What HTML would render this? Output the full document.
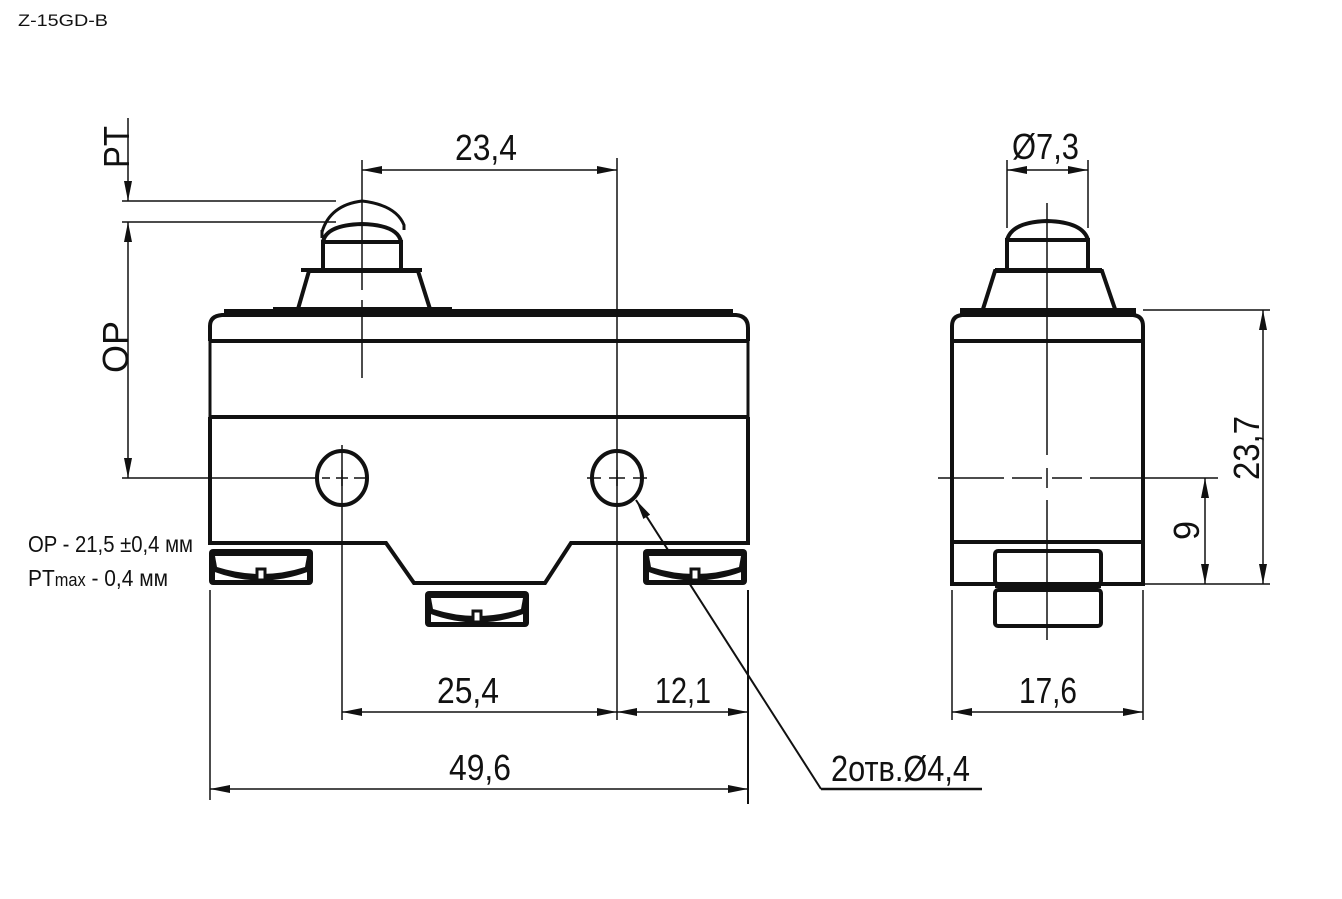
<!DOCTYPE html>
<html><head><meta charset="utf-8"><style>
html,body{margin:0;padding:0;background:#fff;}
svg{display:block;}
text{font-family:"Liberation Sans",sans-serif;fill:#111;}
</style></head><body>
<svg width="1342" height="899" viewBox="0 0 1342 899" xmlns="http://www.w3.org/2000/svg">
<defs>
<marker id="a" viewBox="0 0 20 8" refX="20" refY="4" markerWidth="20" markerHeight="8" markerUnits="userSpaceOnUse" orient="auto-start-reverse">
<path d="M0,0 L20,4 L0,8 z" fill="#111"/></marker>
<g id="term">
<rect x="2" y="2" width="104" height="36" rx="4" fill="#111"/>
<path d="M8,9 L100,9 L98,20 Q54,34 10,20 Z" fill="#fff"/>
<path d="M8,23 Q30,32 50,33 L50,33 L8,33 Z M100,23 Q78,32 58,33 L100,33 Z" fill="#fff"/>
<path d="M8,23 Q54,40 100,23" fill="none" stroke="#111" stroke-width="4"/>
<rect x="50" y="22" width="8" height="11" fill="#fff" stroke="#111" stroke-width="3"/>
</g>
</defs>
<text x="18" y="26" font-size="17" textLength="90" lengthAdjust="spacingAndGlyphs">Z-15GD-B</text>

<g fill="none" stroke="#111">
<path d="M210,341 L210,326 Q210,316 222,315 L736,315 Q748,316 748,328 L748,341" stroke-width="4"/>
<path d="M224,312 L276,312 L276,310 L449,310 L449,312 L733,312" stroke-width="6"/>
<line x1="210" y1="341" x2="748" y2="341" stroke-width="4"/>
<line x1="210" y1="341" x2="210" y2="418" stroke-width="3"/>
<line x1="748" y1="341" x2="748" y2="418" stroke-width="3"/>
<line x1="210" y1="417" x2="748" y2="417" stroke-width="4"/>
<path d="M210,417 L210,543 L386,543 L414,583 L545,583 L571,543 L748,543 L748,417" stroke-width="4"/>
<path d="M298,309 L309,271 L418,271 L430,309" stroke-width="4"/>
<line x1="301" y1="270" x2="422" y2="270" stroke-width="4"/>
<path d="M323,270 L323,242 L401,242 L401,270" stroke-width="4"/>
<path d="M323,242 Q326,225 362,224 Q398,225 401,242" stroke-width="4"/>
<path d="M322,232 Q330,205 362,201 Q396,205 404,225 L404,230" stroke-width="3"/>
<line x1="322" y1="230" x2="322" y2="238" stroke-width="3"/>
<line x1="362" y1="160" x2="362" y2="290" stroke-width="1.5"/>
<line x1="362" y1="300" x2="362" y2="308" stroke-width="1.5"/>
<line x1="362" y1="312" x2="362" y2="378" stroke-width="1.5"/>
<line x1="617" y1="158" x2="617" y2="720" stroke-width="1.5"/>
<line x1="342" y1="445" x2="342" y2="720" stroke-width="1.5"/>
<ellipse cx="342" cy="478" rx="25" ry="27" stroke-width="4"/>
<ellipse cx="617" cy="478" rx="25" ry="27" stroke-width="4"/>
<line x1="122" y1="478" x2="317" y2="478" stroke-width="1.5"/>
<path d="M322,478 h8 M336,478 h12 M354,478 h14 M342,470 v16" stroke-width="1.5"/>
<path d="M587,478 h14 M609,478 h16 M633,478 h14 M617,470 v16" stroke-width="1.5"/>
<line x1="128" y1="118" x2="128" y2="201" stroke-width="1.5" marker-end="url(#a)"/>
<line x1="122" y1="201" x2="336" y2="201" stroke-width="1.5"/>
<line x1="122" y1="222" x2="336" y2="222" stroke-width="1.5"/>
<line x1="128" y1="222" x2="128" y2="478" stroke-width="1.5" marker-start="url(#a)" marker-end="url(#a)"/>
<line x1="362" y1="170" x2="617" y2="170" stroke-width="1.5" marker-start="url(#a)" marker-end="url(#a)"/>
<line x1="210" y1="590" x2="210" y2="800" stroke-width="1.5"/>
<line x1="748" y1="590" x2="748" y2="804" stroke-width="2"/>
<line x1="342" y1="712" x2="617" y2="712" stroke-width="1.5" marker-start="url(#a)" marker-end="url(#a)"/>
<line x1="617" y1="712" x2="748" y2="712" stroke-width="1.5" marker-start="url(#a)" marker-end="url(#a)"/>
<line x1="210" y1="789" x2="748" y2="789" stroke-width="1.5" marker-start="url(#a)" marker-end="url(#a)"/>
<path d="M821,789 L982,789" stroke-width="2.5"/>
<line x1="821" y1="789" x2="636" y2="500" stroke-width="2" marker-end="url(#a)"/>

<path d="M952,341 L952,326 Q952,316 962,315 L1133,315 Q1143,316 1143,326 L1143,341" stroke-width="4"/>
<line x1="960" y1="311" x2="1136" y2="311" stroke-width="6"/>
<line x1="952" y1="341" x2="1143" y2="341" stroke-width="4"/>
<rect x="952" y="341" width="191" height="243" stroke-width="4"/>
<line x1="952" y1="542" x2="1143" y2="542" stroke-width="4"/>
<path d="M983,309 L995,271 L1102,271 L1115,309" stroke-width="4"/>
<line x1="995" y1="270" x2="1102" y2="270" stroke-width="4"/>
<path d="M1007,270 L1007,240 L1088,240 L1088,270" stroke-width="4"/>
<path d="M1007,240 Q1012,222 1047,221 Q1083,222 1088,240" stroke-width="4"/>
<rect x="995" y="551" width="106" height="33" rx="3" stroke-width="4"/>
<rect x="995" y="590" width="106" height="36" rx="3" stroke-width="4"/>
<line x1="995" y1="586" x2="1101" y2="586" stroke-width="4"/>
<line x1="1047" y1="203" x2="1047" y2="455" stroke-width="1.5"/>
<line x1="1047" y1="468" x2="1047" y2="488" stroke-width="1.5"/>
<line x1="1047" y1="500" x2="1047" y2="640" stroke-width="1.5"/>
<path d="M938,478 h66 M1012,478 h30 M1052,478 h30 M1090,478 h128" stroke-width="1.5"/>
<line x1="1007" y1="160" x2="1007" y2="228" stroke-width="1.5"/>
<line x1="1088" y1="160" x2="1088" y2="228" stroke-width="1.5"/>
<line x1="1007" y1="170" x2="1088" y2="170" stroke-width="1.5" marker-start="url(#a)" marker-end="url(#a)"/>
<line x1="1143" y1="310" x2="1270" y2="310" stroke-width="1.5"/>
<line x1="1143" y1="584" x2="1270" y2="584" stroke-width="1.5"/>
<line x1="1263" y1="310" x2="1263" y2="584" stroke-width="1.5" marker-start="url(#a)" marker-end="url(#a)"/>
<line x1="1205" y1="478" x2="1205" y2="584" stroke-width="1.5" marker-start="url(#a)" marker-end="url(#a)"/>
<line x1="952" y1="590" x2="952" y2="720" stroke-width="1.5"/>
<line x1="1143" y1="590" x2="1143" y2="720" stroke-width="1.5"/>
<line x1="952" y1="712" x2="1143" y2="712" stroke-width="1.5" marker-start="url(#a)" marker-end="url(#a)"/>
</g>

<use href="#term" x="207" y="547"/>
<use href="#term" x="423" y="589"/>
<use href="#term" x="641" y="547"/>

<g font-size="36">
<text x="455" y="160" textLength="62" lengthAdjust="spacingAndGlyphs">23,4</text>
<text x="437" y="703" textLength="62" lengthAdjust="spacingAndGlyphs">25,4</text>
<text x="655" y="703" textLength="56" lengthAdjust="spacingAndGlyphs">12,1</text>
<text x="449" y="780" textLength="62" lengthAdjust="spacingAndGlyphs">49,6</text>
<text x="1019" y="703" textLength="58" lengthAdjust="spacingAndGlyphs">17,6</text>
<text x="1012" y="159" textLength="67" lengthAdjust="spacingAndGlyphs">Ø7,3</text>
<text x="831" y="781" textLength="139" lengthAdjust="spacingAndGlyphs">2отв.Ø4,4</text>
<text transform="translate(129,168) rotate(-90)" textLength="42" lengthAdjust="spacingAndGlyphs">PT</text>
<text transform="translate(128,373) rotate(-90)" textLength="52" lengthAdjust="spacingAndGlyphs">OP</text>
<text transform="translate(1259,480) rotate(-90)" textLength="64" lengthAdjust="spacingAndGlyphs">23,7</text>
<text transform="translate(1199,540) rotate(-90)" textLength="19" lengthAdjust="spacingAndGlyphs">9</text>
</g>
<text x="28" y="552" font-size="23" textLength="165" lengthAdjust="spacingAndGlyphs">OP - 21,5 ±0,4 мм</text>
<text x="28" y="586" font-size="23" textLength="140" lengthAdjust="spacingAndGlyphs">PT<tspan font-size="18">max</tspan> - 0,4 мм</text>
</svg>
</body></html>
